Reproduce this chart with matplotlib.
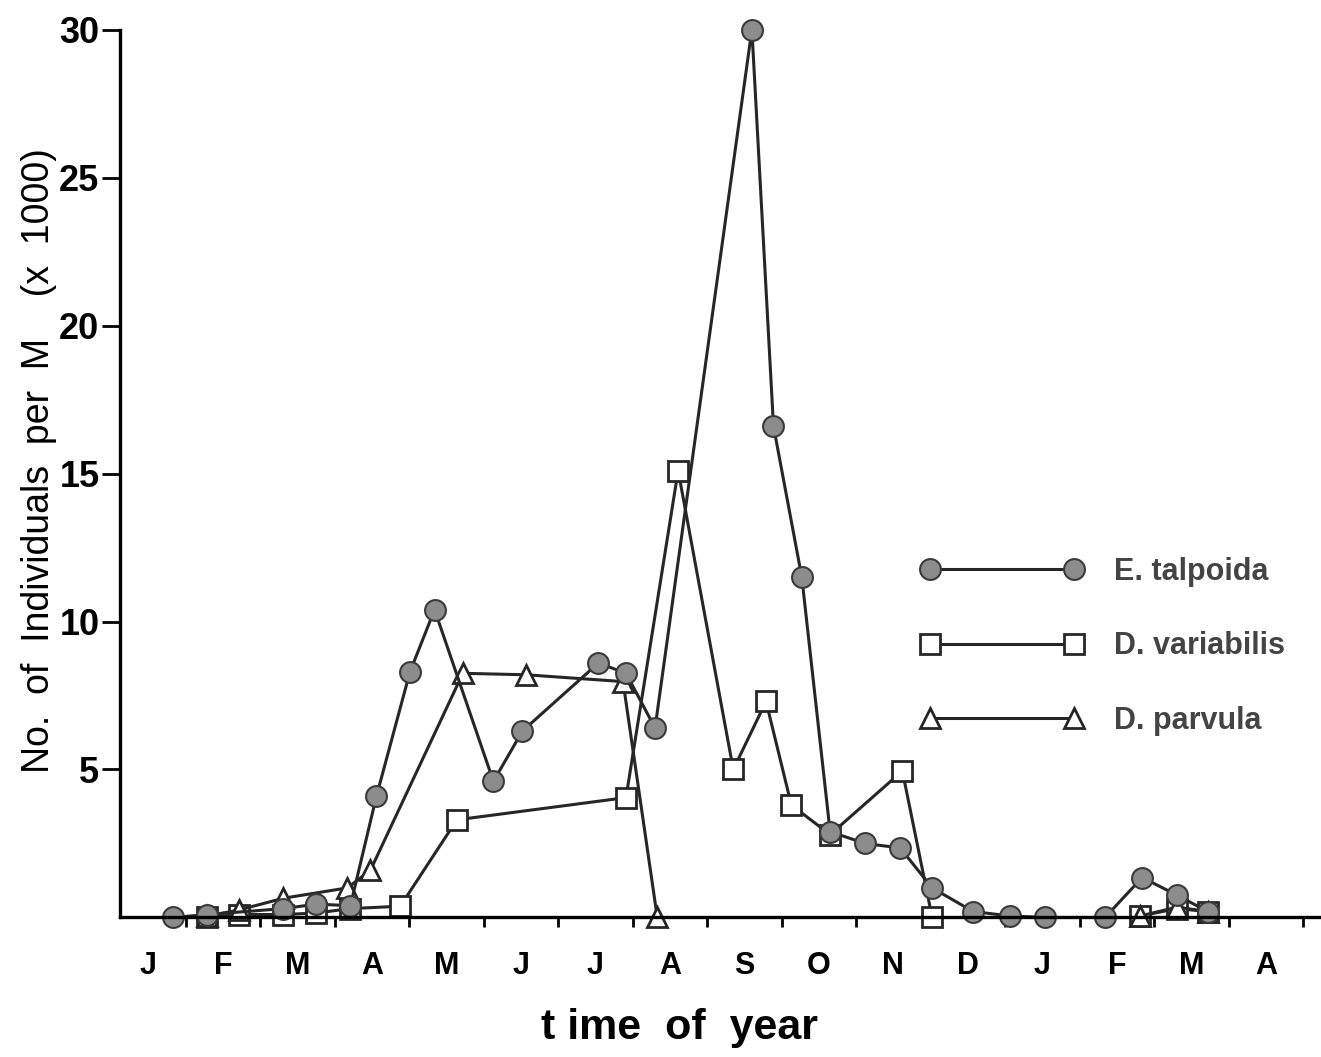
import numpy as np
import matplotlib.pyplot as plt

plt.rcParams['font.family'] = ['Liberation Sans', 'DejaVu Sans']

# month axis: 0 = start of Jan (year 1), 12 = start of Jan (year 2)
month_labels = ['J', 'F', 'M', 'A', 'M', 'J', 'J', 'A', 'S', 'O', 'N', 'D', 'J', 'F', 'M', 'A']

# E. talpoida
talp_x = [0.83, 1.29, 2.31, 2.75, 3.21, 3.56, 4.01, 4.34, 5.13, 5.52, 6.54, 6.91, 7.30,
          8.60, 8.89, 9.27, 9.65, 10.12, 10.59, 11.02, 11.57, 12.07, 12.54, 13.34,
          13.84, 14.31, 14.72]
talp_y = [0.0, 0.1, 0.3, 0.45, 0.4, 4.1, 8.3, 10.4, 4.6, 6.3, 8.6, 8.25, 6.4,
          30.0, 16.6, 11.5, 2.9, 2.5, 2.35, 1.0, 0.2, 0.05, 0.0, 0.0,
          1.35, 0.75, 0.2]

# D. variabilis
var_x = [1.29, 1.71, 2.31, 2.75, 3.21, 3.88, 4.64, 6.91, 7.61, 8.35, 8.79, 9.13, 9.65,
         10.62, 11.02, np.nan, 13.81, 14.31, 14.72]
var_y = [0.0, 0.1, 0.1, 0.15, 0.3, 0.38, 3.3, 4.05, 15.1, 5.0, 7.3, 3.8, 2.8,
         4.95, 0.0, np.nan, 0.05, 0.3, 0.2]

# D. parvula
parv_x = [1.29, 1.71, 2.31, 3.17, 3.48, 4.72, 5.57, 6.87, 7.33, np.nan, 13.81, 14.31, 14.72]
parv_y = [0.05, 0.25, 0.65, 1.0, 1.6, 8.25, 8.2, 7.97, 0.0, np.nan, 0.05, 0.35, 0.2]

line_col = '#262626'
fig = plt.figure(figsize=(13.21, 10.57), dpi=100)
ax = fig.add_axes([0.091, 0.132, 0.909, 0.84])

ax.plot(var_x, var_y, '-s', color=line_col, lw=2.2, ms=15, mfc='white', mec=line_col,
        mew=2, label='D. variabilis', clip_on=False)
ax.plot(parv_x, parv_y, '-^', color=line_col, lw=2.2, ms=15, mfc='white', mec=line_col,
        mew=2, label='D. parvula', clip_on=False)
ax.plot(talp_x, talp_y, '-o', color=line_col, lw=2.2, ms=15, mfc='#8c8c8c', mec='#3a3a3a',
        mew=1.5, label='E. talpoida', clip_on=False)

ax.set_xlim(0.12, 16.24)
ax.set_ylim(0, 30)

ax.spines['top'].set_visible(False)
ax.spines['right'].set_visible(False)
ax.spines['left'].set_linewidth(2.4)
ax.spines['bottom'].set_linewidth(2.4)

ax.set_yticks([5, 10, 15, 20, 25, 30])
ax.tick_params(axis='y', length=13, width=2, pad=2, labelsize=26)
for t in ax.get_yticklabels():
    t.set_fontweight('bold')

ax.set_xticks(np.arange(16) + 0.5)
ax.set_xticklabels(month_labels, fontsize=22, fontweight='bold')
ax.set_xticks(np.arange(1, 17), minor=True)
ax.tick_params(axis='x', which='major', length=0, pad=24)
ax.tick_params(axis='x', which='minor', length=7, width=2)

ax.set_xlabel('t ime  of  year', fontsize=31, fontweight='bold', va='center')
ax.xaxis.set_label_coords(0.466, -0.124)
ax.set_ylabel('No.  of  Individuals  per  M    (x  1000)', fontsize=27, va='center')
ax.yaxis.set_label_coords(-0.068, 0.515)

handles, labels = ax.get_legend_handles_labels()
order = [2, 0, 1]
leg = ax.legend([handles[i] for i in order], [labels[i] for i in order],
                loc='upper left', bbox_to_anchor=(0.644, 0.437), frameon=False,
                numpoints=2, handlelength=5.3, handletextpad=1.0, labelspacing=1.45,
                prop={'size': 22, 'weight': 'bold'})
for t in leg.get_texts():
    t.set_color('#444444')

fig.savefig('out.png', dpi=100)
